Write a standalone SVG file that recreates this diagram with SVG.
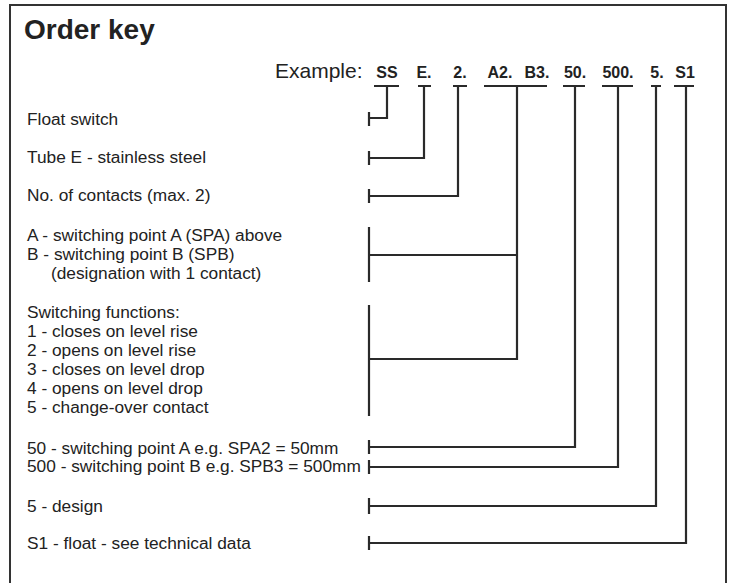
<svg xmlns="http://www.w3.org/2000/svg" width="733" height="583" viewBox="0 0 733 583">
<style>
.t{font-family:"Liberation Sans",Arial,sans-serif;font-size:17.3px;fill:#222}
.c{font-family:"Liberation Sans",Arial,sans-serif;font-size:16px;font-weight:bold;fill:#222;text-anchor:middle}
.ln{fill:none;stroke:#2a2a2a;stroke-width:2.2}
</style>
<rect x="0" y="0" width="733" height="583" fill="#fff"/>
<rect x="10" y="5" width="716" height="600" fill="none" stroke="#333" stroke-width="2"/>
<g id="title"><text x="24" y="39" font-family="Liberation Sans,Arial,sans-serif" font-size="28" font-weight="bold" fill="#222">Order key</text></g>
<g id="example">
<text x="275" y="78" font-family="Liberation Sans,Arial,sans-serif" font-size="21" fill="#222">Example:</text>
<text class="c" x="387" y="78">SS</text>
<text class="c" x="424" y="78">E.</text>
<text class="c" x="460" y="78">2.</text>
<text class="c" x="500" y="78">A2.</text>
<text class="c" x="537" y="78">B3.</text>
<text class="c" x="575" y="78">50.</text>
<text class="c" x="618" y="78">500.</text>
<text class="c" x="657" y="78">5.</text>
<text class="c" x="685" y="78">S1</text>
</g>
<g id="labels">
<text class="t" x="27" y="125">Float switch</text>
<text class="t" x="27" y="163">Tube E - stainless steel</text>
<text class="t" x="27" y="201">No. of contacts (max. 2)</text>
<text class="t" x="27" y="241">A - switching point A (SPA) above</text>
<text class="t" x="27" y="260">B - switching point B (SPB)</text>
<text class="t" x="51" y="279">(designation with 1 contact)</text>
<text class="t" x="27" y="318">Switching functions:</text>
<text class="t" x="27" y="337">1 - closes on level rise</text>
<text class="t" x="27" y="356">2 - opens on level rise</text>
<text class="t" x="27" y="375">3 - closes on level drop</text>
<text class="t" x="27" y="394">4 - opens on level drop</text>
<text class="t" x="27" y="413">5 - change-over contact</text>
<text class="t" x="27" y="454">50 - switching point A e.g. SPA2 = 50mm</text>
<text class="t" x="27" y="472">500 - switching point B e.g. SPB3 = 500mm</text>
<text class="t" x="27" y="512">5 - design</text>
<text class="t" x="27" y="549">S1 - float - see technical data</text>
</g>
<g id="connectors" class="ln">
<path d="M374,86H399M369,112V126M369,118H387V86"/>
<path d="M418,86H431M369,151V165M369,158H424V86"/>
<path d="M453,86H467M369,189V203M369,196H458V86"/>
<path d="M484,86H547M369,227V282M369,255H517M369,305V416M369,359H517V86"/>
<path d="M563,86H585M369,440V454M369,447H575V86"/>
<path d="M602,86H633M369,460V474M369,467H618V86"/>
<path d="M651,86H661M369,498V514M369,506H656V86"/>
<path d="M674,86H694M369,536V550M369,543H686V86"/>
</g>
</svg>
